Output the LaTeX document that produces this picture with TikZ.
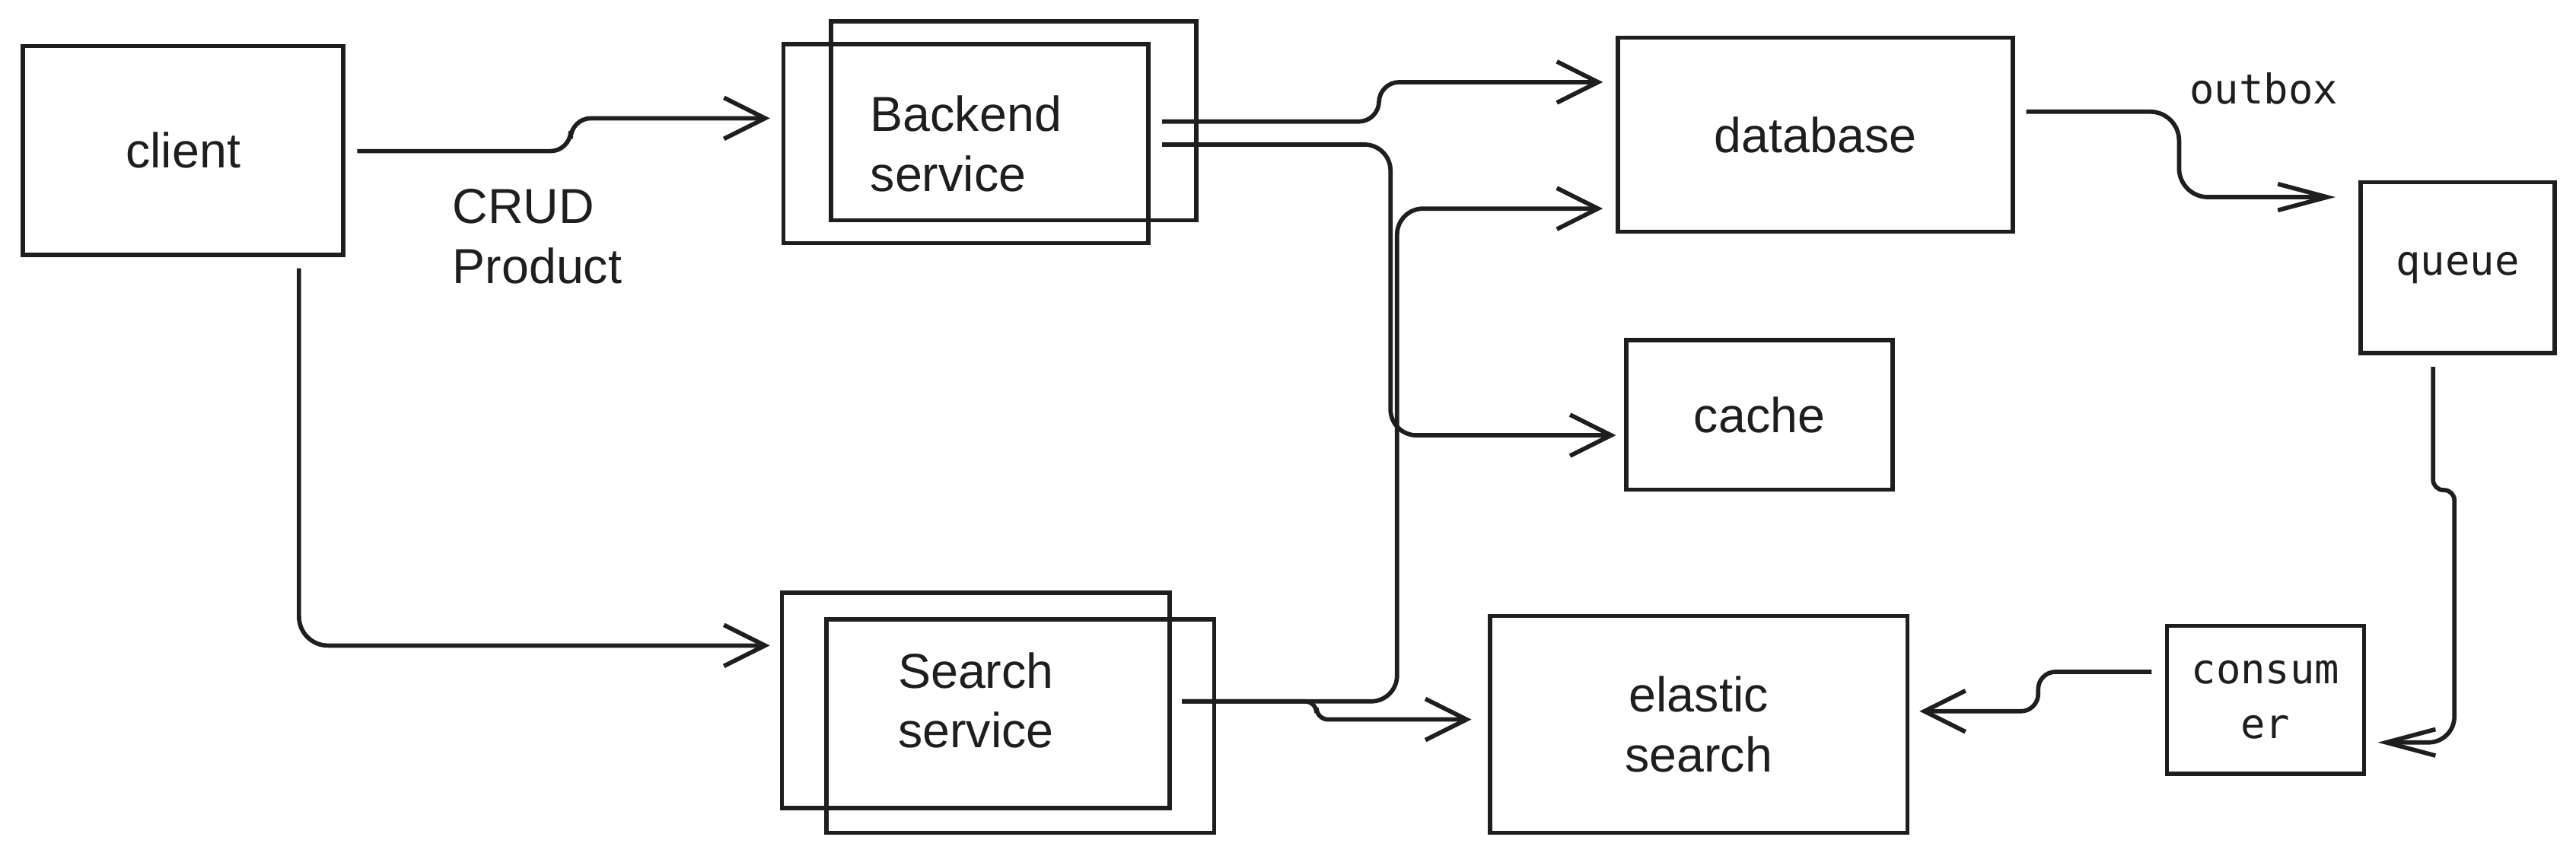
\documentclass[tikz,border=0pt]{standalone}
\usepackage{fontspec}
\setmainfont{Liberation Sans}
\newfontfamily\monofont{DejaVu Sans Mono}
\usetikzlibrary{arrows.meta}
\usetikzlibrary{calc}
\definecolor{ink}{HTML}{1E1E1E}

\begin{document}
\begin{tikzpicture}[x=0.01cm, y=-0.01cm, color=ink,
    txt/.style={inner sep=0pt, align=center, font=\fontsize{8.5}{10.3}\selectfont},
    monotxt/.style={inner sep=0pt, align=center, font=\monofont\fontsize{7.1}{9.4}\selectfont},
    box/.style={draw, line width=0.75pt, txt},
    monobox/.style={box, monotxt},
    flow/.style={line width=0.75pt, rounded corners=3.5pt, -{Straight Barb[length=0.25cm,width=0.25cm]}},
    flowthin/.style={flow, -{Straight Barb[length=0.3cm,width=0.16cm]}}]
  \useasboundingbox (0,0) rectangle (1568,521);

  % boxes
  \node[box, minimum width=1.95cm, minimum height=1.27cm] (client) at (111.5,91.5) {client};
  \node[box, minimum width=2.22cm, minimum height=1.21cm] (backB) at (617,73.5) {};
  \node[box, minimum width=2.22cm, minimum height=1.21cm, align=left] (backA) at (588,87.5) {Backend\\service};
  \node[box, minimum width=2.40cm, minimum height=1.18cm] (database) at (1105,82) {database};
  \node[box, minimum width=1.62cm, minimum height=0.91cm] (cache) at (1071,252.5) {cache};
  \node[monobox, minimum width=1.18cm, minimum height=1.04cm] (queue) at (1496,163) {queue};
  \node[monobox, minimum width=1.20cm, minimum height=0.90cm] (consumer) at (1379,426) {consum\\er};
  \node[box, minimum width=2.54cm, minimum height=1.32cm] (elastic) at (1034,441) {elastic\\search};
  \node[box, minimum width=2.36cm, minimum height=1.31cm] (searchA) at (594,426.5) {Search\\service};
  \node[box, minimum width=2.36cm, minimum height=1.30cm] (searchB) at (621,442) {};

  % labels
  \node[txt, align=left] (crud) at (327,144) {CRUD\\Product};
  \node[monotxt] (outbox) at (1378,54) {outbox};

  % connectors
  \draw[flow] ([shift={(7,0.5)}]client.east) -- ++(130,0) |- ([shift={(-7,-15.5)}]backA.west);
  \draw[flow, rounded corners=5pt] ([shift={(70.5,7)}]client.south) |- ([shift={(-6,-33.5)}]searchA.west);
  \draw[flow] ([shift={(7,-13.5)}]backA.east) -- ++(132,0) |- ([shift={(-8,-32)}]database.west);
  \draw[flow, rounded corners=4.5pt] ([shift={(7,0.5)}]backA.east) -- ++(139,0) |- ([shift={(-5,12.5)}]cache.west);
  \draw[flow, rounded corners=4.5pt] ([shift={(6,0.5)}]searchA.east) -- ++(131,0) |- ([shift={(-8,45)}]database.west);
  \draw[flow, rounded corners=2pt] ([shift={(6,0.5)}]searchA.east) -- ++(82,0) |- ([shift={(-10,-3)}]elastic.west);
  \draw[flowthin, rounded corners=5pt] ([shift={(7,-14)}]database.east) -- ++(93,0) |- ([shift={(-14,-43)}]queue.west);
  \draw[flowthin, rounded corners=1.8pt] ([shift={(-15,7)}]queue.south) -- ++(0,75) -- ++(13,0) [rounded corners=4.5pt] |- ([shift={(7,26)}]consumer.east);
  \draw[flow, rounded corners=3pt] ([shift={(-8,-17)}]consumer.west) -- ++(-69,0) |- ([shift={(6,-8)}]elastic.east);
\end{tikzpicture}
\end{document}
